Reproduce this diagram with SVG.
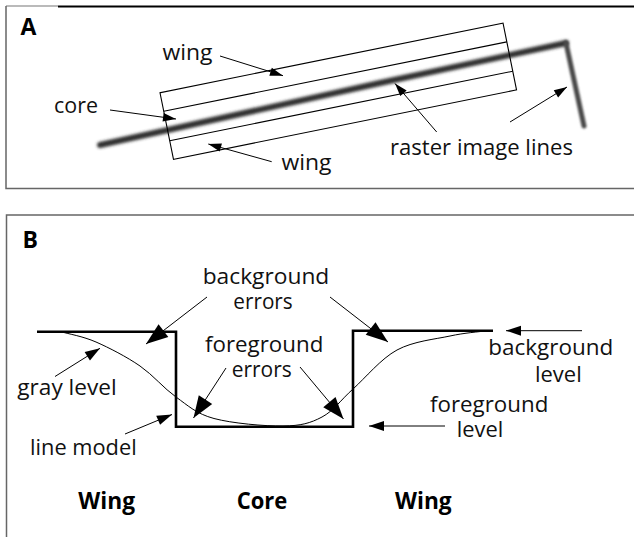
<svg xmlns="http://www.w3.org/2000/svg" width="634" height="537" viewBox="0 0 634 537">
  <style>
    .lbl { font-family: "Open Sans", "Liberation Sans", sans-serif; font-size: 22px; fill: #111; }
    .bold { font-family: "Open Sans", "Liberation Sans", sans-serif; font-size: 23px; font-weight: bold; fill: #000; }
    .frame { fill: none; stroke: #666; stroke-width: 1.5; }
    .thin { fill: none; stroke: #000; stroke-width: 1.1; }
    .model { fill: none; stroke: #000; stroke-width: 2.6; }
    .curve { fill: none; stroke: #000; stroke-width: 1; }
    .arrow-s { fill: none; stroke: #000; stroke-width: 1; marker-end: url(#head-s); }
    .arrow-m { fill: none; stroke: #000; stroke-width: 1; marker-end: url(#head-m); }
    .arrow-l { fill: none; stroke: #000; stroke-width: 1; marker-end: url(#head-l); }
  </style>
  <defs>
    <marker id="head-s" markerUnits="userSpaceOnUse" viewBox="-15 -6 16 12" markerWidth="16" markerHeight="12" refX="0" refY="0" orient="auto">
      <path d="M0,0 L-13,-4.2 L-13,4.2 Z" fill="#000"/>
    </marker>
    <marker id="head-m" markerUnits="userSpaceOnUse" viewBox="-17 -7 18 14" markerWidth="18" markerHeight="14" refX="0" refY="0" orient="auto">
      <path d="M0,0 L-15,-5 L-15,5 Z" fill="#000"/>
    </marker>
    <marker id="head-l" markerUnits="userSpaceOnUse" viewBox="-24 -10 25 20" markerWidth="25" markerHeight="20" refX="0" refY="0" orient="auto">
      <path d="M0,0 L-22,-8 L-22,8 Z" fill="#000"/>
    </marker>
    <filter id="soft" filterUnits="userSpaceOnUse" x="0" y="0" width="634" height="200">
      <feGaussianBlur stdDeviation="1.7"/>
    </filter>
    <filter id="soft-lite" filterUnits="userSpaceOnUse" x="0" y="0" width="634" height="200">
      <feGaussianBlur stdDeviation="0.9"/>
    </filter>
  </defs>

  <rect width="634" height="537" fill="#fff"/>

  <!-- Panel A frame -->
  <g id="frame-a">
    <line x1="6" y1="6" x2="58" y2="6" stroke="#777" stroke-width="1.2"/>
    <line x1="58" y1="6.5" x2="634" y2="6.5" stroke="#000" stroke-width="2"/>
    <polyline class="frame" points="6,6 6,188.5 634,188.5"/>
  </g>

  <!-- Panel B frame -->
  <g id="frame-b">
    <polyline class="frame" points="6.5,537 6.5,215 634,215"/>
  </g>

  <!-- Panel A: blurred raster lines -->
  <g id="raster-lines">
    <polyline points="100,145 380,83 566,43" fill="none" stroke="#2e2e2e" stroke-width="6" stroke-linecap="round" stroke-linejoin="round" filter="url(#soft)"/>
    <line x1="566" y1="43" x2="584" y2="126" stroke="#4a4a4a" stroke-width="5" stroke-linecap="round" filter="url(#soft-lite)"/>
  </g>

  <!-- Panel A: line model box with core and wings -->
  <g id="model-box" transform="translate(160,92.7) rotate(-11.45)">
    <rect class="thin" x="0" y="0" width="350" height="68"/>
    <line class="thin" x1="0" y1="19" x2="350" y2="19"/>
    <line class="thin" x1="0" y1="49" x2="350" y2="49"/>
  </g>

  <!-- Panel B: line model profile -->
  <g id="line-model">
    <path class="model" d="M37,331.7 H176 V426.7 H353 V330.7 H493"/>
  </g>

  <!-- Panel B: measured gray level profile -->
  <g id="gray-profile">
    <path class="curve" d="M62,332 C67.7,333.7 83,336.3 96,342 C109,347.7 126.7,356.8 140,366 C153.3,375.2 163.7,388.3 176,397 C188.3,405.8 196.2,413.7 214,418.5 C231.8,423.3 265,426.3 283,426 C301,425.8 310.3,423.2 322,417 C333.7,410.8 340.5,400.2 353,389 C365.5,377.8 380.8,358.8 397,350 C413.2,341.2 435.3,339.2 450,336 C464.7,332.8 479.2,331.8 485,331"/>
  </g>

  <!-- Connectors -->
  <g id="connectors">
    <line class="arrow-s" x1="220" y1="56" x2="283" y2="75.7"/>
    <line class="arrow-s" x1="110" y1="110" x2="176" y2="119"/>
    <line class="arrow-s" x1="271.7" y1="161.7" x2="208.3" y2="144"/>
    <line class="arrow-s" x1="436.7" y1="132" x2="395" y2="83.5"/>
    <line class="arrow-s" x1="510" y1="122" x2="567" y2="87"/>

    <line class="arrow-l" x1="207" y1="297" x2="146" y2="344"/>
    <line class="arrow-l" x1="330" y1="297" x2="388" y2="342"/>
    <line class="arrow-l" x1="226" y1="368" x2="193.5" y2="418"/>
    <line class="arrow-l" x1="300" y1="367" x2="343.5" y2="419"/>
    <line class="arrow-m" x1="55" y1="376.5" x2="100" y2="348.3"/>
    <line class="arrow-m" x1="125" y1="434" x2="172" y2="414.5"/>
    <line class="arrow-m" x1="582" y1="330.7" x2="506" y2="330.7"/>
    <line class="arrow-m" x1="445" y1="426" x2="369" y2="426"/>
  </g>

  <!-- Labels, panel A -->
  <g id="label-a"><text class="bold" x="20.5" y="35">A</text></g>
  <g id="label-wing-top"><text class="lbl" x="162.5" y="60" textLength="50" lengthAdjust="spacingAndGlyphs">wing</text></g>
  <g id="label-core"><text class="lbl" x="54" y="113" textLength="44" lengthAdjust="spacingAndGlyphs">core</text></g>
  <g id="label-wing-bottom"><text class="lbl" x="281.5" y="170" textLength="50" lengthAdjust="spacingAndGlyphs">wing</text></g>
  <g id="label-raster"><text class="lbl" x="390" y="154.5" textLength="183" lengthAdjust="spacingAndGlyphs">raster image lines</text></g>

  <!-- Labels, panel B -->
  <g id="label-b"><text class="bold" x="22.5" y="248">B</text></g>
  <g id="label-bg-errors">
    <text class="lbl" x="202.7" y="283.5" textLength="126.6" lengthAdjust="spacingAndGlyphs">background</text>
    <text class="lbl" x="233.3" y="309.3" textLength="59.4" lengthAdjust="spacingAndGlyphs">errors</text>
  </g>
  <g id="label-fg-errors">
    <text class="lbl" x="205" y="351.7" textLength="118.3" lengthAdjust="spacingAndGlyphs">foreground</text>
    <text class="lbl" x="231.7" y="377.3" textLength="60" lengthAdjust="spacingAndGlyphs">errors</text>
  </g>
  <g id="label-gray-level"><text class="lbl" x="17.3" y="395" textLength="99.4" lengthAdjust="spacingAndGlyphs">gray level</text></g>
  <g id="label-line-model"><text class="lbl" x="30" y="455" textLength="106.7" lengthAdjust="spacingAndGlyphs">line model</text></g>
  <g id="label-bg-level">
    <text class="lbl" x="488.3" y="354.5" textLength="125" lengthAdjust="spacingAndGlyphs">background</text>
    <text class="lbl" x="535" y="381.5" textLength="46.7" lengthAdjust="spacingAndGlyphs">level</text>
  </g>
  <g id="label-fg-level">
    <text class="lbl" x="430" y="411.5" textLength="118.3" lengthAdjust="spacingAndGlyphs">foreground</text>
    <text class="lbl" x="456.7" y="436.7" textLength="46.6" lengthAdjust="spacingAndGlyphs">level</text>
  </g>
  <g id="label-wing-left"><text class="bold" x="78.3" y="509.3" textLength="56.7" lengthAdjust="spacingAndGlyphs">Wing</text></g>
  <g id="label-core-b"><text class="bold" x="236.7" y="509.3" textLength="50.6" lengthAdjust="spacingAndGlyphs">Core</text></g>
  <g id="label-wing-right"><text class="bold" x="395" y="509.3" textLength="56.7" lengthAdjust="spacingAndGlyphs">Wing</text></g>
</svg>
